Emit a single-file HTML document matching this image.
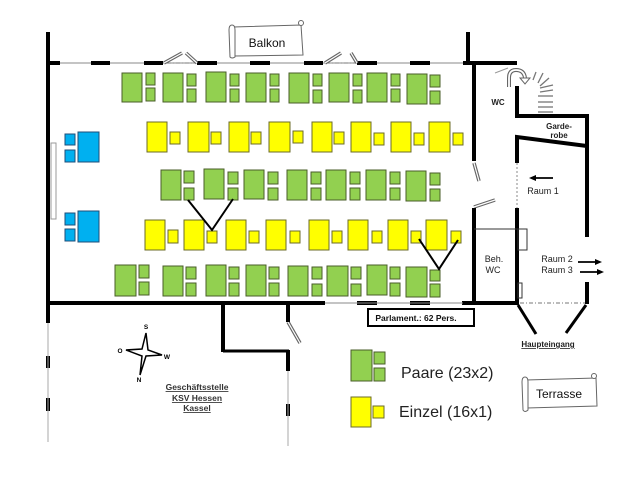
<!DOCTYPE html>
<html><head><meta charset="utf-8"><style>
html,body{margin:0;padding:0;background:#fff;}
svg{display:block;}
text{font-family:"Liberation Sans",Arial,sans-serif;}
</style></head><body>
<svg width="639" height="479" viewBox="0 0 639 479" xmlns="http://www.w3.org/2000/svg">
<rect width="639" height="479" fill="#fff"/>

<!-- Balkon scroll -->
<g fill="#fff" stroke="#666" stroke-width="1">
<path d="M233,27 L301,25 L303,55 L234,56 Z"/>
<path d="M229,30 Q229,25 232,25 Q235,25 235,30 L235,57 Q232,59 230,57 Z"/>
<circle cx="301" cy="23" r="2.5"/>
</g>
<text x="267" y="47" font-size="12" text-anchor="middle" fill="#111">Balkon</text>

<!-- Terrasse scroll -->
<g fill="#fff" stroke="#666" stroke-width="1">
<path d="M526,380 L596,378 L597,406 L527,408 Z"/>
<path d="M522,382 Q522,377 525,377 Q528,377 528,382 L528,410 Q525,413 523,410 Z"/>
<circle cx="594" cy="376" r="2.5"/>
</g>
<text x="559" y="398" font-size="12" text-anchor="middle" fill="#111">Terrasse</text>

<!-- top wall thin -->
<line x1="48" y1="63" x2="468" y2="63" stroke="#888" stroke-width="1"/>
<g stroke="#000" stroke-width="4">
<line x1="48" y1="63" x2="60" y2="63"/>
<line x1="91" y1="63" x2="110" y2="63"/>
<line x1="144" y1="63" x2="163" y2="63"/>
<line x1="197" y1="63" x2="217" y2="63"/>
<line x1="250" y1="63" x2="270" y2="63"/>
<line x1="304" y1="63" x2="323" y2="63"/>
<line x1="357" y1="63" x2="377" y2="63"/>
<line x1="410" y1="63" x2="430" y2="63"/>
<line x1="463" y1="63" x2="517" y2="63"/>
</g>
<!-- dash-dot in doors -->
<line x1="167" y1="63" x2="196" y2="63" stroke="#777" stroke-width="1" stroke-dasharray="4,2,1,2"/>
<line x1="326" y1="63" x2="356" y2="63" stroke="#777" stroke-width="1" stroke-dasharray="4,2,1,2"/>
<!-- door double lines -->
<g stroke="#666" stroke-width="3.5" fill="none">
<line x1="164" y1="63" x2="182" y2="53"/>
<line x1="186" y1="53" x2="197" y2="63"/>
<line x1="325" y1="63" x2="341" y2="53"/>
<line x1="351" y1="53" x2="357" y2="63"/>
<line x1="474" y1="163" x2="479" y2="181"/>
<line x1="474" y1="207" x2="495" y2="200"/>
<line x1="288" y1="322" x2="300" y2="343"/>
</g>
<g stroke="#fff" stroke-width="1.2" fill="none">
<line x1="164" y1="63" x2="182" y2="53"/>
<line x1="186" y1="53" x2="197" y2="63"/>
<line x1="325" y1="63" x2="341" y2="53"/>
<line x1="351" y1="53" x2="357" y2="63"/>
<line x1="474" y1="163" x2="479" y2="181"/>
<line x1="474" y1="207" x2="495" y2="200"/>
<line x1="288" y1="322" x2="300" y2="343"/>
</g>

<!-- main walls -->
<g stroke="#000" stroke-width="4" fill="none">
<line x1="48" y1="32" x2="48" y2="323"/>
<line x1="468" y1="32" x2="468" y2="63"/>
<line x1="474" y1="63" x2="474" y2="161"/>
<line x1="474" y1="208" x2="474" y2="305"/>
<line x1="46" y1="303" x2="325" y2="303"/>
<line x1="357" y1="303" x2="377" y2="303"/>
<line x1="410" y1="303" x2="430" y2="303"/>
<line x1="462" y1="303" x2="519" y2="303"/>
<!-- right rooms -->
<polyline points="517,86 517,116 587,116 587,146"/>
<polyline points="517,163 517,137 587,146 587,237"/>
<line x1="517" y1="208" x2="517" y2="305"/>
<line x1="587" y1="282" x2="587" y2="304"/>
<!-- lower structure -->
<line x1="223" y1="303" x2="223" y2="352"/>
<line x1="288" y1="303" x2="288" y2="322"/>
<line x1="288" y1="350" x2="288" y2="371"/>
<line x1="48" y1="356" x2="48" y2="368"/>
<line x1="48" y1="398" x2="48" y2="411"/>
<line x1="288" y1="404" x2="288" y2="416"/>
</g>
<line x1="223" y1="351" x2="289" y2="351" stroke="#000" stroke-width="3"/>
<line x1="325" y1="303" x2="463" y2="303" stroke="#888" stroke-width="1"/>
<line x1="48" y1="323" x2="48" y2="442" stroke="#aaa" stroke-width="1"/>
<line x1="288" y1="371" x2="288" y2="446" stroke="#aaa" stroke-width="1"/>
<line x1="517" y1="163" x2="517" y2="208" stroke="#888" stroke-width="1" stroke-dasharray="2,2"/>
<line x1="520" y1="303" x2="585" y2="303" stroke="#777" stroke-width="1" stroke-dasharray="4,2,1,2"/>
<!-- Haupteingang lines -->
<g stroke="#000" stroke-width="3">
<line x1="518" y1="305" x2="536" y2="334"/>
<line x1="586" y1="305" x2="566" y2="333"/>
</g>

<!-- window left -->
<rect x="51" y="143" width="5" height="76" fill="#fff" stroke="#999" stroke-width="1"/>

<!-- WC stair symbol -->
<line x1="495" y1="73" x2="508" y2="68" stroke="#999" stroke-width="1"/>
<path d="M509,87 L509,78 Q509,70 516,70 Q524,70 525,78" fill="none" stroke="#666" stroke-width="4"/>
<path d="M509,87 L509,78 Q509,70 516,70 Q524,70 525,78" fill="none" stroke="#fff" stroke-width="1.8"/>
<polygon points="520,78 530,78 525,84" fill="#fff" stroke="#666" stroke-width="1"/>
<g stroke="#777" stroke-width="1.3">
<line x1="533" y1="80" x2="536" y2="72"/>
<line x1="538" y1="83" x2="543" y2="73"/>
<line x1="540" y1="86" x2="549" y2="78"/>
<line x1="540" y1="88" x2="553" y2="85"/>
<line x1="540" y1="92" x2="553" y2="90"/>
<line x1="538" y1="96" x2="553" y2="96"/>
<line x1="538" y1="102" x2="553" y2="102"/>
<line x1="538" y1="107" x2="553" y2="107"/>
<line x1="538" y1="112" x2="553" y2="112"/>
</g>
<text x="498" y="105" font-size="8" font-weight="bold" text-anchor="middle" fill="#222">WC</text>
<text x="559" y="129" font-size="8" font-weight="bold" text-anchor="middle" fill="#222">Garde-</text>
<text x="559" y="138" font-size="8" font-weight="bold" text-anchor="middle" fill="#222">robe</text>

<!-- Beh WC -->
<line x1="474" y1="229" x2="527" y2="229" stroke="#333" stroke-width="1"/>
<rect x="518" y="229" width="9" height="21" fill="none" stroke="#333" stroke-width="1"/>
<rect x="518" y="283" width="4" height="15" fill="none" stroke="#333" stroke-width="1"/>
<text x="494" y="262" font-size="9" text-anchor="middle" fill="#222">Beh.</text>
<text x="493" y="273" font-size="9" text-anchor="middle" fill="#222">WC</text>

<!-- Raum labels and arrows -->
<text x="543" y="194" font-size="9" text-anchor="middle" fill="#222">Raum 1</text>
<line x1="535" y1="178" x2="553" y2="178" stroke="#000" stroke-width="1.8"/>
<polygon points="529,178 536,175 536,181" fill="#000"/>
<text x="557" y="262" font-size="9" text-anchor="middle" fill="#222">Raum 2</text>
<text x="557" y="273" font-size="9" text-anchor="middle" fill="#222">Raum 3</text>
<line x1="578" y1="262" x2="596" y2="262" stroke="#000" stroke-width="1.8"/>
<polygon points="602,262 595,259 595,265" fill="#000"/>
<line x1="580" y1="272" x2="598" y2="272" stroke="#000" stroke-width="1.8"/>
<polygon points="604,272 597,269 597,275" fill="#000"/>

<!-- Parlament box -->
<rect x="368" y="309" width="106" height="17" fill="#fff" stroke="#000" stroke-width="2"/>
<text x="416" y="321" font-size="8.5" font-weight="bold" text-anchor="middle" fill="#111">Parlament.: 62 Pers.</text>

<text x="548" y="347" font-size="8" font-weight="bold" text-anchor="middle" fill="#222" text-decoration="underline">Haupteingang</text>

<!-- compass -->
<path d="M146,333 L148,350 L162,355 L146,356 L140,375 L142,356 L126,350 L142,349 Z" fill="#fff" stroke="#000" stroke-width="1.5"/>
<g font-size="6.5" font-weight="bold" fill="#000" text-anchor="middle">
<text x="146" y="329">S</text>
<text x="120" y="353">O</text>
<text x="167" y="359">W</text>
<text x="139" y="382">N</text>
</g>

<g font-size="8.5" font-weight="bold" text-anchor="middle" fill="#333" text-decoration="underline">
<text x="197" y="390">Geschäftsstelle</text>
<text x="197" y="401">KSV Hessen</text>
<text x="197" y="411">Kassel</text>
</g>

<!-- blue tables -->
<g fill="#00B0F0" stroke="#1f4e79" stroke-width="1">
<rect x="78" y="132" width="21" height="30"/>
<rect x="65" y="134" width="10" height="11"/>
<rect x="65" y="150" width="10" height="12"/>
<rect x="78" y="211" width="21" height="31"/>
<rect x="65" y="213" width="10" height="12"/>
<rect x="65" y="229" width="10" height="12"/>
</g>

<!-- green rows -->
<g fill="#92D050" stroke="#4a5e2a" stroke-width="1">
<!-- row 1 -->
<rect x="122" y="73" width="20" height="29"/><rect x="146" y="73" width="9" height="12"/><rect x="146" y="88" width="9" height="13"/>
<rect x="163" y="73" width="20" height="29"/><rect x="187" y="74" width="9" height="12"/><rect x="187" y="89" width="9" height="13"/>
<rect x="206" y="72" width="20" height="30"/><rect x="230" y="74" width="9" height="12"/><rect x="230" y="89" width="9" height="13"/>
<rect x="246" y="73" width="20" height="29"/><rect x="270" y="74" width="9" height="12"/><rect x="270" y="89" width="9" height="13"/>
<rect x="289" y="73" width="20" height="30"/><rect x="313" y="74" width="9" height="12"/><rect x="313" y="90" width="9" height="13"/>
<rect x="329" y="73" width="20" height="29"/><rect x="353" y="74" width="9" height="12"/><rect x="353" y="90" width="9" height="13"/>
<rect x="367" y="73" width="20" height="29"/><rect x="391" y="74" width="9" height="12"/><rect x="391" y="89" width="9" height="13"/>
<rect x="407" y="74" width="20" height="30"/><rect x="430" y="75" width="10" height="12"/><rect x="430" y="91" width="10" height="13"/>
<!-- row 3 -->
<rect x="161" y="170" width="20" height="30"/><rect x="184" y="171" width="10" height="12"/><rect x="184" y="188" width="10" height="12"/>
<rect x="204" y="169" width="20" height="30"/><rect x="228" y="172" width="10" height="12"/><rect x="228" y="188" width="10" height="12"/>
<rect x="244" y="170" width="20" height="29"/><rect x="268" y="172" width="10" height="12"/><rect x="268" y="188" width="10" height="12"/>
<rect x="287" y="170" width="20" height="30"/><rect x="311" y="172" width="10" height="12"/><rect x="311" y="188" width="10" height="12"/>
<rect x="326" y="170" width="20" height="30"/><rect x="350" y="172" width="10" height="12"/><rect x="350" y="188" width="10" height="12"/>
<rect x="366" y="170" width="20" height="30"/><rect x="390" y="172" width="10" height="12"/><rect x="390" y="188" width="10" height="12"/>
<rect x="406" y="171" width="20" height="30"/><rect x="430" y="173" width="10" height="12"/><rect x="430" y="189" width="10" height="12"/>
<!-- row 5 -->
<rect x="115" y="265" width="21" height="31"/><rect x="139" y="265" width="10" height="13"/><rect x="139" y="282" width="10" height="13"/>
<rect x="163" y="266" width="20" height="30"/><rect x="186" y="267" width="10" height="12"/><rect x="186" y="283" width="10" height="13"/>
<rect x="206" y="265" width="20" height="31"/><rect x="229" y="267" width="10" height="12"/><rect x="229" y="283" width="10" height="13"/>
<rect x="246" y="265" width="20" height="31"/><rect x="269" y="267" width="10" height="12"/><rect x="269" y="283" width="10" height="13"/>
<rect x="288" y="266" width="20" height="30"/><rect x="312" y="267" width="10" height="12"/><rect x="312" y="284" width="10" height="12"/>
<rect x="327" y="266" width="21" height="30"/><rect x="351" y="267" width="10" height="12"/><rect x="351" y="284" width="10" height="12"/>
<rect x="367" y="265" width="20" height="30"/><rect x="390" y="267" width="10" height="12"/><rect x="390" y="283" width="10" height="13"/>
<rect x="406" y="267" width="21" height="30"/><rect x="430" y="270" width="10" height="11"/><rect x="430" y="284" width="10" height="13"/>
</g>

<!-- yellow rows -->
<g fill="#FFFF00" stroke="#6b6b2a" stroke-width="1">
<!-- row 2 -->
<rect x="147" y="122" width="20" height="30"/><rect x="170" y="132" width="10" height="12"/>
<rect x="188" y="122" width="21" height="30"/><rect x="211" y="132" width="10" height="12"/>
<rect x="229" y="122" width="20" height="30"/><rect x="251" y="132" width="10" height="12"/>
<rect x="269" y="122" width="21" height="30"/><rect x="293" y="131" width="10" height="12"/>
<rect x="312" y="122" width="20" height="30"/><rect x="334" y="132" width="10" height="12"/>
<rect x="351" y="122" width="20" height="30"/><rect x="374" y="133" width="10" height="12"/>
<rect x="391" y="122" width="20" height="30"/><rect x="414" y="133" width="10" height="12"/>
<rect x="429" y="122" width="21" height="30"/><rect x="453" y="133" width="10" height="12"/>
<!-- row 4 -->
<rect x="145" y="220" width="20" height="30"/><rect x="168" y="230" width="10" height="13"/>
<rect x="184" y="220" width="20" height="30"/><rect x="207" y="231" width="10" height="12"/>
<rect x="226" y="220" width="20" height="30"/><rect x="249" y="231" width="10" height="12"/>
<rect x="266" y="220" width="20" height="30"/><rect x="290" y="231" width="10" height="12"/>
<rect x="309" y="220" width="20" height="30"/><rect x="332" y="231" width="10" height="12"/>
<rect x="348" y="220" width="20" height="30"/><rect x="372" y="231" width="10" height="12"/>
<rect x="388" y="220" width="20" height="30"/><rect x="411" y="231" width="10" height="12"/>
<rect x="426" y="220" width="21" height="30"/><rect x="451" y="231" width="10" height="12"/>
</g>

<!-- V connectors -->
<polyline points="188,200 212,230 233,199" fill="none" stroke="#000" stroke-width="2"/>
<polyline points="419,239 439,269 458,240" fill="none" stroke="#000" stroke-width="2"/>

<!-- legend -->
<g fill="#92D050" stroke="#4a5e2a" stroke-width="1">
<rect x="351" y="350" width="21" height="31"/>
<rect x="374" y="352" width="11" height="12"/>
<rect x="374" y="368" width="11" height="13"/>
</g>
<g fill="#FFFF00" stroke="#6b6b2a" stroke-width="1">
<rect x="351" y="397" width="20" height="30"/>
<rect x="373" y="406" width="11" height="12"/>
</g>
<text x="401" y="378" font-size="16" fill="#222">Paare (23x2)</text>
<text x="399" y="417" font-size="16" fill="#222">Einzel (16x1)</text>
</svg>
</body></html>
